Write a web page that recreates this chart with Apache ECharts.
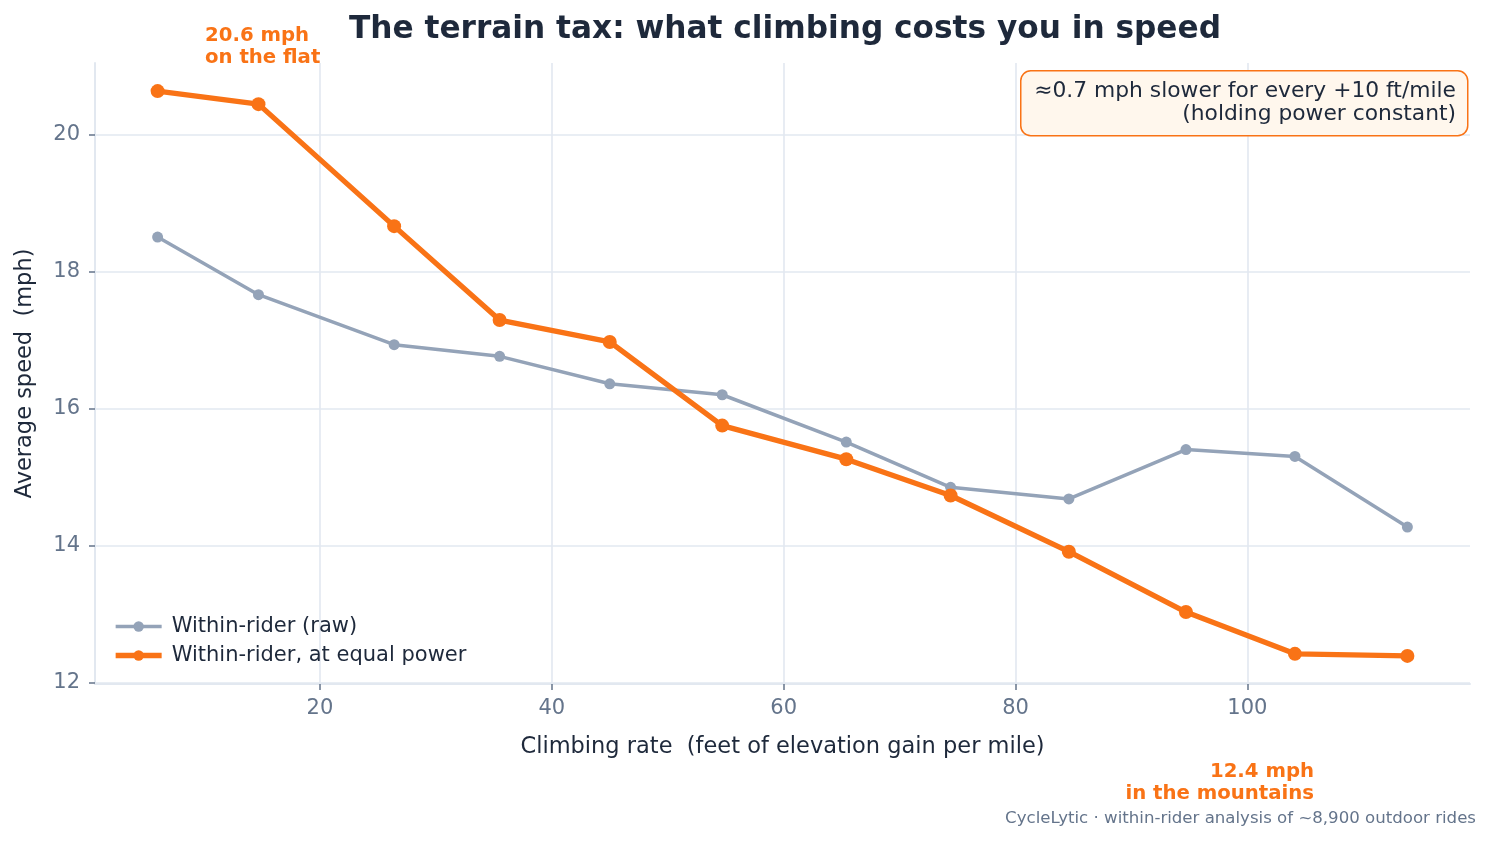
<!DOCTYPE html>
<html>
<head>
<meta charset="utf-8">
<script src="https://cdn.jsdelivr.net/npm/echarts@6/dist/echarts.min.js"></script>
<style>
  html, body { margin: 0; padding: 0; background: #fff; }
  #chart { width: 1492px; height: 843px; }
</style>
</head>
<body>
<div id="chart"></div>
<script>
// climbing rate bins (ft per mile)
const climbRate = [6.0, 14.7, 26.4, 35.5, 45.0, 54.7, 65.4, 74.4, 84.6, 94.7, 104.1, 113.8];
// average speed, mph
const rawSpeed = [18.50, 17.66, 16.93, 16.76, 16.36, 16.20, 15.51, 14.85, 14.68, 15.40, 15.30, 14.27];
const equalPowerSpeed = [20.63, 20.44, 18.66, 17.29, 16.97, 15.75, 15.26, 14.73, 13.91, 13.03, 12.42, 12.39];
const xTicks = [20, 40, 60, 80, 100];
const yTicks = [12, 14, 16, 18, 20];

const FONT = 'DejaVu Sans';
const ORANGE = '#f97316';
const GRAY = '#94a3b8';
const INK = '#1e293b';
const MUTED = '#64748b';
const GRID = '#e2e8f0';

const chart = echarts.init(document.getElementById('chart'));

const pair = (xs, ys) => xs.map((x, i) => [x, ys[i]]);

// one right-aligned text line (graphic), lines are stacked by hand
function textLine(text, right, top, font, fill, z) {
  return {
    type: 'text',
    right: right,
    top: top,
    z: z || 1,
    style: { text: text, fill: fill, font: font }
  };
}

chart.setOption({
  backgroundColor: '#ffffff',
  animation: false,
  textStyle: { fontFamily: FONT },
  title: {
    text: 'The terrain tax: what climbing costs you in speed',
    left: 780,
    textAlign: 'center',
    top: 9,
    textStyle: { fontSize: 31.2, fontWeight: 'bold', color: INK, fontFamily: FONT }
  },
  grid: { left: 95, right: 22, top: 63, bottom: 159 },
  legend: {
    left: 108,
    top: 611,
    padding: 5,
    orient: 'vertical',
    itemGap: 8,
    itemWidth: 46,
    itemHeight: 13,
    textStyle: { fontSize: 21, color: INK, fontFamily: FONT, padding: [0, 0, 0, 5] },
    data: [
      { name: 'Within-rider (raw)', lineStyle: { width: 3.5 }, itemStyle: { color: GRAY } },
      { name: 'Within-rider, at equal power', lineStyle: { width: 5.3 }, itemStyle: { color: ORANGE } }
    ]
  },
  xAxis: {
    type: 'value',
    min: 0.6,
    max: 119.2,
    name: 'Climbing rate  (feet of elevation gain per mile)',
    nameLocation: 'middle',
    nameGap: 52,
    nameTextStyle: { fontSize: 22.5, color: INK, fontFamily: FONT },
    axisLine: { show: true, lineStyle: { color: GRID, width: 2 } },
    axisTick: { show: true, length: 6, lineStyle: { color: MUTED, width: 1.5 }, customValues: xTicks },
    axisLabel: { fontSize: 21, color: MUTED, fontFamily: FONT, margin: 14, customValues: xTicks },
    splitLine: { show: true, lineStyle: { color: GRID, width: 1.6 } }
  },
  yAxis: {
    type: 'value',
    min: 11.98,
    max: 21.04,
    name: 'Average speed  (mph)',
    nameLocation: 'middle',
    nameGap: 58,
    nameTextStyle: { fontSize: 22.5, color: INK, fontFamily: FONT },
    axisLine: { show: true, lineStyle: { color: GRID, width: 2 } },
    axisTick: { show: true, length: 6, lineStyle: { color: MUTED, width: 1.5 }, customValues: yTicks },
    axisLabel: { fontSize: 21, color: MUTED, fontFamily: FONT, margin: 15, customValues: yTicks },
    splitLine: { show: true, lineStyle: { color: GRID, width: 1.6 } }
  },
  series: [
    {
      name: 'Within-rider (raw)',
      type: 'line',
      data: pair(climbRate, rawSpeed),
      symbol: 'circle',
      symbolSize: 11,
      itemStyle: { color: GRAY },
      lineStyle: { color: GRAY, width: 3.5 },
      z: 2
    },
    {
      name: 'Within-rider, at equal power',
      type: 'line',
      data: pair(climbRate, equalPowerSpeed),
      symbol: 'circle',
      symbolSize: 14,
      itemStyle: { color: ORANGE },
      lineStyle: { color: ORANGE, width: 5.3 },
      z: 3
    }
  ],
  graphic: [
    {
      type: 'text',
      left: 205,
      top: 25,
      style: {
        text: '20.6 mph\non the flat',
        fill: ORANGE,
        font: 'bold 19.7px "DejaVu Sans"',
        lineHeight: 22,
        align: 'left'
      }
    },
    textLine('12.4 mph', 178, 762, 'bold 19.7px "DejaVu Sans"', ORANGE),
    textLine('in the mountains', 178, 784, 'bold 19.7px "DejaVu Sans"', ORANGE),
    textLine('CycleLytic · within-rider analysis of ~8,900 outdoor rides', 16, 810, '16.6px "DejaVu Sans"', MUTED),
    {
      type: 'rect',
      left: 1020,
      top: 70,
      shape: { width: 447, height: 65, r: 10 },
      style: { fill: '#fff7ed', stroke: ORANGE, lineWidth: 1.5 },
      z: 10
    },
    textLine('≈0.7 mph slower for every +10 ft/mile', 36, 80, '21.8px "DejaVu Sans"', INK, 11),
    textLine('(holding power constant)', 36, 103, '21.8px "DejaVu Sans"', INK, 11)
  ]
});
</script>
</body>
</html>
